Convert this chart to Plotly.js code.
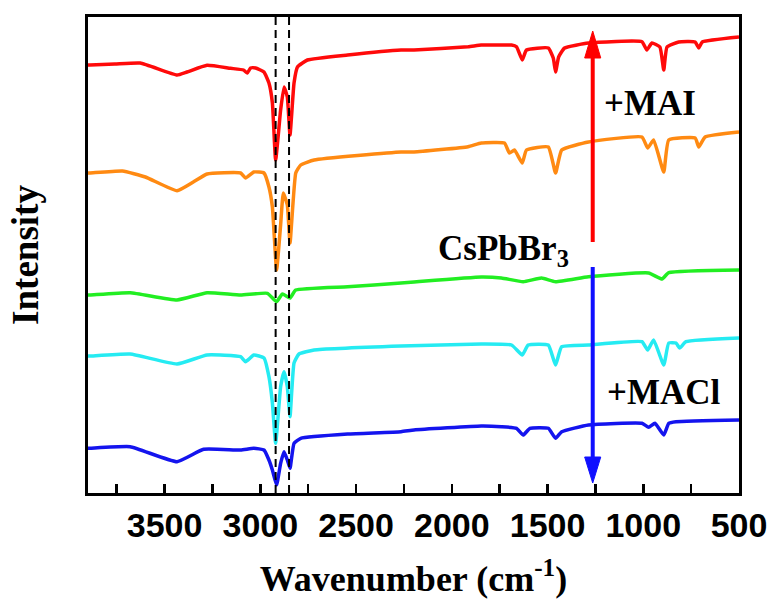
<!DOCTYPE html>
<html>
<head>
<meta charset="utf-8">
<script src="https://cdn.plot.ly/plotly-3.0.1.min.js"></script>
<style>html,body{margin:0;padding:0;background:#fff;}#chart{width:774px;height:602px;}</style>
</head>
<body>
<div id="chart"></div>
<script>
// ---- Data (wavenumber in cm^-1, intensity in arbitrary offset units) ----
const redWn = [3900,3890,3760,3627,3435,3383,3278,3156,3088,3068,3051,3025,2981,2955,2937,2920,2894,2876,2859,2845,2824,2806,2754,2544,2265,2197,1915,1846,1741,1688,1662,1632,1610,1496,1470,1458,1442,1411,1286,1007,981,955,913,893,876,815,729,710,692,500];
const redI  = [428,428,429,430,418,421,427.7,424.7,423,420,425,425,421,410,390,333,383,406,396,358,410,426,433,438,443,443,446.3,448,448,448,446.3,433,443,445,435,421,436,445,450,451.3,443,450,446,423,446,451,451,445,451,456];

const orangeWn = [3900,3890,3720,3600,3435,3350,3278,3103,3077,3034,2981,2955,2937,2915,2894,2880,2859,2845,2815,2789,2719,2265,2197,1915,1846,1725,1699,1673,1632,1610,1496,1458,1426,1286,1007,977,946,893,867,729,710,677,500];
const orangeI  = [320,320,322,316,302.3,311,319,320,315,321,320,306,286,223,268,300,288,250,320,328,333,341,341,346.3,350,350,340,343,330,343,346,320,343,351,356,345,353,321,353,355,346,356,361];

const greenWn = [3900,3890,3680,3435,3278,3103,2963,2915,2885,2845,2815,2544,2265,2197,1846,1741,1627,1531,1458,1286,972,902,867,500];
const greenI  = [198,198,200.3,193,200.3,198,199.7,191.3,199,195,203,206.3,210,211,216,215,211.3,215,211.3,216.3,220,214,220.3,223];

const cyanWn = [3900,3890,3680,3435,3278,3103,3077,3034,2981,2955,2937,2920,2894,2876,2859,2845,2824,2798,2719,2265,1846,1688,1632,1601,1496,1458,1426,1286,1007,977,946,893,867,829,810,777,500];
const cyanI  = [137,137,139,129,138,136.3,131.3,138,135,116.3,90,49.7,106.3,121.3,106.3,76.3,130,139,143,147,149,148,138,148,148,128,146.3,148,151.3,143,153,128,150,150,145,151.3,155];

const blueWn = [3900,3890,3680,3435,3296,3103,3034,2981,2955,2937,2915,2894,2876,2859,2845,2824,2789,2544,2265,2197,1846,1741,1662,1627,1592,1496,1458,1426,1286,1007,972,939,893,867,829,500];
const blueI  = [44.7,44.7,46.3,31.3,43.7,43,44.7,43,33,23,8,29.7,41.3,33,24.7,49.7,54.7,59,61.3,63,67,66.3,64.7,58,64.7,64.7,54.7,61.3,68,69.7,65.7,69.7,58,69.7,71.3,73];

const seriesNames = ['+MAI (high)','+MAI','CsPbBr3','+MACl','+MACl (high)'];
const dashedWn = [2920, 2850];
const xTickVals = [3500, 3000, 2500, 2000, 1500, 1000, 500];

// ---- Build traces ----
const specs = [
  {x: redWn, y: redI, c: '#FF0A0A'},
  {x: orangeWn, y: orangeI, c: '#FF8A12'},
  {x: greenWn, y: greenI, c: '#22EE22'},
  {x: cyanWn, y: cyanI, c: '#25EBF2'},
  {x: blueWn, y: blueI, c: '#1414EE'}
];
const traces = specs.map((s, i) => ({
  type: 'scatter', mode: 'lines', x: s.x, y: s.y, name: seriesNames[i],
  line: {color: s.c, width: 3.5, shape: 'spline', smoothing: 0.4},
  hoverinfo: 'x+y'
}));

const serif = 'Liberation Serif, Times New Roman, serif';
const sans = 'Liberation Sans, Arial, sans-serif';

const shapes = dashedWn.map(w => ({
  type: 'line', xref: 'x', yref: 'paper', x0: w, x1: w, y0: 0, y1: 1,
  line: {color: '#000', width: 2, dash: '8px,5px'}, layer: 'above'
}));
// arrows (annotation graphics)
const ax = 1264, hw = 42;
shapes.push({type: 'line', xref: 'x', yref: 'y', x0: ax, x1: ax, y0: 251, y1: 438, line: {color: '#FF0000', width: 4}});
shapes.push({type: 'path', xref: 'x', yref: 'y', path: `M ${ax+hw},435 L ${ax-hw},435 L ${ax},462 Z`, fillcolor: '#FF0000', line: {color: '#FF0000', width: 1}});
shapes.push({type: 'line', xref: 'x', yref: 'y', x0: ax, x1: ax, y0: 226, y1: 33, line: {color: '#1010FF', width: 4}});
shapes.push({type: 'path', xref: 'x', yref: 'y', path: `M ${ax+hw},36 L ${ax-hw},36 L ${ax},10 Z`, fillcolor: '#1010FF', line: {color: '#1010FF', width: 1}});

const labelFont = {family: serif, size: 35, color: '#000', weight: 'bold'};
const annotations = [
  {x: 965, y: 390, xref: 'x', yref: 'y', text: '+MAI', showarrow: false, font: labelFont},
  {x: 1730, y: 243, xref: 'x', yref: 'y', text: 'CsPbBr<sub>3</sub>', showarrow: false, font: labelFont},
  {x: 892, y: 101, xref: 'x', yref: 'y', text: '+MACl', showarrow: false, font: labelFont}
];

const layout = {
  width: 774, height: 602,
  margin: {l: 88, r: 35, t: 17, b: 109},
  paper_bgcolor: '#fff', plot_bgcolor: '#fff',
  showlegend: false,
  xaxis: {
    range: [3900, 500], autorange: false,
    tickmode: 'array', tickvals: xTickVals, ticktext: xTickVals.map(String),
    ticks: 'inside', ticklen: 9, tickwidth: 2.5, tickcolor: '#000',
    minor: {tickmode: 'linear', tick0: 250, dtick: 250, ticks: 'inside', ticklen: 9, tickwidth: 2.5, tickcolor: '#000'},
    showline: true, linewidth: 3, linecolor: '#000', mirror: true,
    showgrid: false, zeroline: false,
    tickfont: {family: sans, size: 34, color: '#000', weight: 'bold'},
    title: {text: 'Wavenumber (cm<sup>-1</sup>)', font: {family: serif, size: 36, color: '#000', weight: 'bold'}, standoff: 24}
  },
  yaxis: {
    range: [0, 476], autorange: false,
    showticklabels: false, ticks: '',
    showline: true, linewidth: 3, linecolor: '#000', mirror: true,
    showgrid: false, zeroline: false,
    title: {text: 'Intensity', font: {family: serif, size: 37, color: '#000', weight: 'bold'}, standoff: 36}
  },
  shapes: shapes,
  annotations: annotations
};

Plotly.newPlot('chart', traces, layout, {displayModeBar: false, staticPlot: true});
</script>
</body>
</html>
